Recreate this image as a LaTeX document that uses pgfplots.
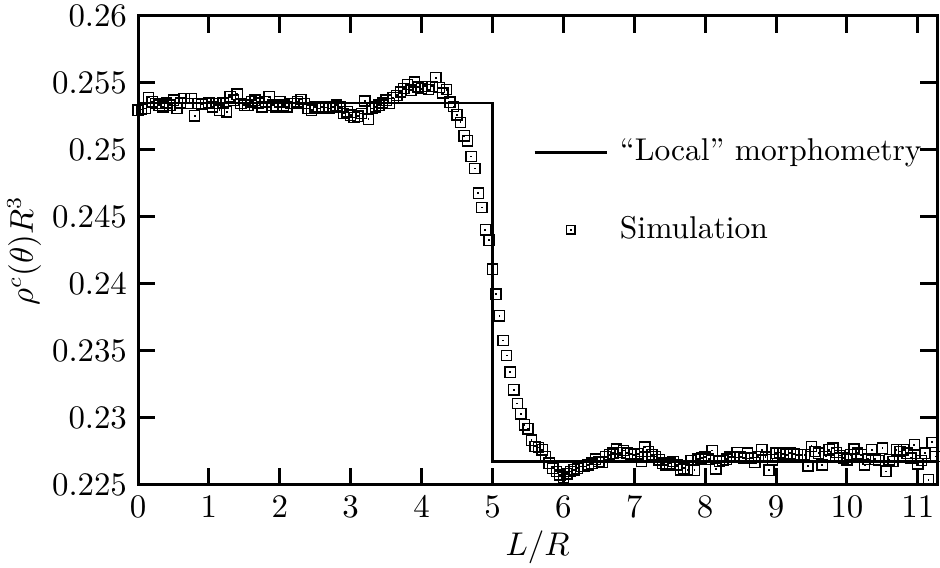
\documentclass[border=0pt]{standalone}
\usepackage{pgfplots}
\usepackage{pgfplotstable}
\pgfplotsset{compat=1.18}
\pgfdeclareplotmark{sqdot}{%
  \pgfpathrectangle{\pgfqpoint{-\pgfplotmarksize}{-\pgfplotmarksize}}{\pgfqpoint{2\pgfplotmarksize}{2\pgfplotmarksize}}%
  \pgfusepathqstroke
  \pgfpathrectangle{\pgfqpoint{-0.3pt}{-0.3pt}}{\pgfqpoint{0.6pt}{0.6pt}}%
  \pgfusepathqfill}
\pgfplotsset{
  lineleg/.style={legend image code/.code={\draw[##1] (0pt,0pt) -- (24pt,0pt);}},
  markleg/.style={legend image code/.code={\draw[##1, mark size=1.4pt] plot coordinates {(12pt,0pt)};}},
}
\pgfplotstableread{
x y
0.00 0.25297
0.05 0.25302
0.10 0.25309
0.15 0.25391
0.20 0.25359
0.25 0.25347
0.30 0.25334
0.35 0.25322
0.40 0.25351
0.45 0.25334
0.50 0.25371
0.55 0.25309
0.60 0.25351
0.65 0.25384
0.70 0.25347
0.75 0.25384
0.80 0.25255
0.85 0.25347
0.90 0.25342
0.95 0.25347
1.00 0.25351
1.05 0.25322
1.10 0.25347
1.15 0.25297
1.20 0.25351
1.25 0.25285
1.30 0.25396
1.35 0.25371
1.40 0.25416
1.45 0.25347
1.50 0.25334
1.55 0.25334
1.60 0.25359
1.65 0.25371
1.70 0.25351
1.75 0.25322
1.80 0.25359
1.85 0.25396
1.90 0.25334
1.95 0.25322
2.00 0.25359
2.05 0.25334
2.10 0.25322
2.15 0.25347
2.20 0.25347
2.25 0.25359
2.30 0.25376
2.35 0.25347
2.40 0.25309
2.45 0.25297
2.50 0.25322
2.55 0.25309
2.60 0.25322
2.65 0.25317
2.70 0.25309
2.75 0.25322
2.80 0.25334
2.85 0.25322
2.90 0.25272
2.95 0.25285
3.00 0.25260
3.05 0.25243
3.10 0.25252
3.15 0.25272
3.20 0.25366
3.25 0.25230
3.30 0.25309
3.35 0.25322
3.40 0.25334
3.45 0.25351
3.50 0.25371
3.55 0.25347
3.60 0.25391
3.65 0.25408
3.70 0.25433
3.75 0.25458
3.80 0.25490
3.85 0.25446
3.90 0.25507
3.95 0.25470
4.00 0.25458
4.05 0.25475
4.10 0.25450
4.15 0.25475
4.20 0.25540
4.25 0.25465
4.30 0.25425
4.35 0.25450
4.40 0.25357
4.45 0.25325
4.50 0.25263
4.55 0.25206
4.60 0.25106
4.65 0.25069
4.70 0.24952
4.75 0.24862
4.80 0.24678
4.85 0.24571
4.90 0.24404
4.95 0.24327
5.00 0.24111
5.05 0.23924
5.10 0.23762
5.15 0.23578
5.20 0.23466
5.25 0.23342
5.30 0.23210
5.35 0.23108
5.40 0.23031
5.45 0.22949
5.50 0.22919
5.55 0.22834
5.60 0.22787
5.65 0.22780
5.70 0.22763
5.75 0.22713
5.80 0.22663
5.85 0.22625
5.90 0.22600
5.95 0.22575
6.00 0.22558
6.05 0.22583
6.10 0.22600
6.15 0.22613
6.20 0.22625
6.25 0.22638
6.30 0.22638
6.35 0.22650
6.40 0.22663
6.45 0.22693
6.50 0.22675
6.55 0.22668
6.60 0.22713
6.65 0.22725
6.70 0.22738
6.75 0.22768
6.80 0.22743
6.85 0.22758
6.90 0.22738
6.95 0.22733
7.00 0.22725
7.05 0.22733
7.10 0.22675
7.15 0.22783
7.20 0.22750
7.25 0.22725
7.30 0.22713
7.35 0.22688
7.40 0.22663
7.45 0.22650
7.50 0.22663
7.55 0.22675
7.60 0.22650
7.65 0.22613
7.70 0.22625
7.75 0.22613
7.80 0.22683
7.85 0.22610
7.90 0.22693
7.95 0.22700
8.00 0.22708
8.05 0.22693
8.10 0.22758
8.15 0.22620
8.20 0.22675
8.25 0.22683
8.30 0.22693
8.35 0.22708
8.40 0.22713
8.45 0.22743
8.50 0.22708
8.55 0.22700
8.60 0.22738
8.65 0.22700
8.70 0.22668
8.75 0.22713
8.80 0.22763
8.85 0.22708
8.90 0.22610
8.95 0.22688
9.00 0.22738
9.05 0.22743
9.10 0.22733
9.15 0.22725
9.20 0.22738
9.25 0.22730
9.30 0.22725
9.35 0.22725
9.40 0.22725
9.45 0.22643
9.50 0.22788
9.55 0.22750
9.60 0.22738
9.65 0.22650
9.70 0.22713
9.75 0.22763
9.80 0.22775
9.85 0.22743
9.90 0.22720
9.95 0.22700
10.00 0.22688
10.05 0.22725
10.10 0.22768
10.15 0.22738
10.20 0.22725
10.25 0.22650
10.30 0.22693
10.35 0.22763
10.40 0.22693
10.45 0.22683
10.50 0.22775
10.55 0.22600
10.60 0.22688
10.65 0.22675
10.70 0.22763
10.75 0.22750
10.80 0.22763
10.85 0.22738
10.90 0.22700
10.95 0.22800
11.00 0.22658
11.05 0.22683
11.10 0.22738
11.15 0.22538
11.20 0.22818
11.25 0.22713
}\simdata
\pgfplotstableread{
x y
0 0.2535
5 0.2535
5 0.22675
11.27 0.22675
}\localdata
\begin{document}
\fontsize{10.5pt}{12.6pt}\selectfont
\begin{tikzpicture}
\path[use as bounding box] (0,0) rectangle (313.33pt,189.33pt);
\begin{axis}[
  at={(46pt,27.67pt)}, anchor=south west,
  scale only axis, width=266.33pt, height=156.33pt,
  xmin=0, xmax=11.27, ymin=0.225, ymax=0.26,
  xtick={0,1,...,11},
  ytick={0.225,0.23,0.235,0.24,0.245,0.25,0.255,0.26},
  yticklabel style={/pgf/number format/fixed,/pgf/number format/precision=3},
  scaled y ticks=false,
  tick align=inside,
  major tick length=5.7pt,
  minor tick num=0,
  axis line style={line width=1pt},
  every tick/.style={line width=1pt, black},
  xlabel={$L/R$}, ylabel={$\rho^c(\theta)R^3$},
  xlabel style={yshift=2.5pt},
  ylabel style={yshift=-3.5pt},
  clip=false,
  legend style={draw=none, fill=none, at={(axis cs:5.44,0.25177)}, anchor=north west,
    row sep=13pt, column sep=2pt, font=\fontsize{10.5pt}{12.6pt}\selectfont,
    legend cell align=left},
]
\addplot[black, line width=0.9pt, lineleg] table[x=x,y=y] {\localdata};
\addlegendentry{``Local'' morphometry}
\addplot[black, only marks, mark=sqdot, mark size=1.7pt, line width=0.45pt,
  mark options={line width=0.45pt}, markleg] table[x=x,y=y] {\simdata};
\addlegendentry{Simulation}
\end{axis}
\end{tikzpicture}
\end{document}
